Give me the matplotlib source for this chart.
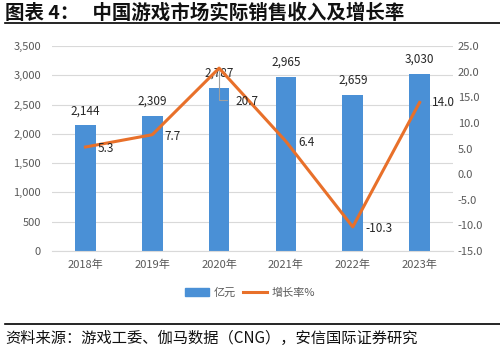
import matplotlib.pyplot as plt
from matplotlib.lines import Line2D
from matplotlib.patches import Patch
import numpy as np

plt.rcParams['font.family'] = ['Noto Sans CJK SC', 'DejaVu Sans']

years = ['2018年', '2019年', '2020年', '2021年', '2022年', '2023年']
revenue = [2144, 2309, 2787, 2965, 2659, 3030]
growth = [5.3, 7.7, 20.7, 6.4, -10.3, 14.0]

blue = '#4a90d6'
orange = '#e8702a'
grey = '#595959'

fig = plt.figure(figsize=(5, 3.52), dpi=100)
ax = fig.add_axes([0.104, 0.287, 0.802, 0.582])
ax2 = ax.twinx()

x = np.arange(len(years))
ax.bar(x, revenue, width=0.31, color=blue, zorder=2)
ax.set_xlim(-0.5, len(years) - 0.5)
ax.set_ylim(0, 3500)
ax.set_yticks(range(0, 3501, 500))
ax.set_yticklabels([f'{v:,}' for v in range(0, 3501, 500)])
ax.set_xticks(x)
ax.set_xticklabels(years)
ax.grid(axis='y', color='#d9d9d9', lw=0.8, zorder=0)
ax.set_axisbelow(True)

ax2.plot(x, growth, color=orange, lw=2.2, zorder=3)
ax2.set_ylim(-15, 25)
ax2.set_yticks(range(-15, 26, 5))
ax2.set_yticklabels([f'{v:.1f}' for v in range(-15, 26, 5)])

for a in (ax, ax2):
    for s in a.spines.values():
        s.set_visible(False)
    a.tick_params(length=0, colors=grey, labelsize=8)
ax.spines['bottom'].set_visible(True)
ax.spines['bottom'].set_color('#d9d9d9')
ax.tick_params(axis='x', pad=6)
ax.tick_params(axis='y', pad=8)

for xi, v in zip(x, revenue):
    ax.annotate(f'{v:,}', (xi, v), xytext=(0, 6), textcoords='offset points',
                ha='center', va='bottom', fontsize=8.5, color='#262626')

offsets = [(9, -1), (9, -1), (12, -24), (9, -1), (9, -1), (9, 0)]
for xi, g, off in zip(x, growth, offsets):
    ax2.annotate(f'{g:.1f}', (xi, g), xytext=off, textcoords='offset points',
                 ha='left', va='center', fontsize=8.5, color='#262626', zorder=4)
# leader line for the 2020 label
ax2.annotate('', (x[2], growth[2]), xytext=(x[2] + 0.16, growth[2] - 6.2),
             arrowprops=dict(arrowstyle='-', color='#a0a0a0', lw=0.8,
                             connectionstyle='angle,angleA=0,angleB=90'))

handles = [Patch(color=blue), Line2D([0], [0], color=orange, lw=2.2)]
fig.legend(handles, ['亿元', '增长率%'], loc='center', bbox_to_anchor=(0.5, 0.168),
           ncol=2, frameon=False, fontsize=8, handlelength=2.2, columnspacing=0.6,
           handletextpad=0.4, labelcolor=grey)

fig.text(0.01, 0.962, '图表 4：   中国游戏市场实际销售收入及增长率', fontsize=14,
         fontweight='bold', va='center', ha='left', color='#111111')
fig.add_artist(Line2D([0.01, 1.0], [0.936, 0.936], color='black', lw=1.2))
fig.add_artist(Line2D([0.01, 1.0], [0.08, 0.08], color='black', lw=1.2))
fig.text(0.01, 0.038, '资料来源：游戏工委、伽马数据（CNG），安信国际证券研究', fontsize=11,
         va='center', ha='left', color='#111111', style='italic')

fig.savefig('out.png', dpi=100)
